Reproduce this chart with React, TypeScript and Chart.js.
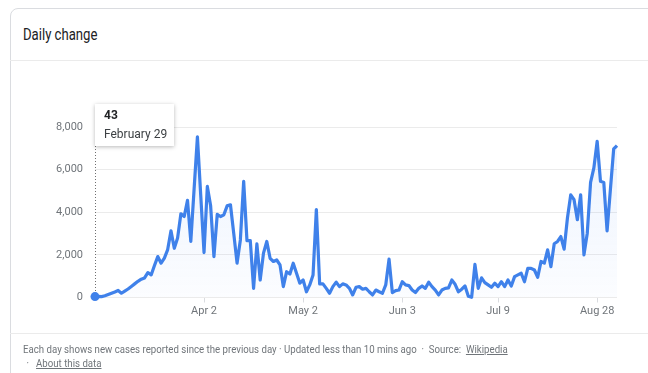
import React, { useEffect, useRef } from "react";
import { Chart, registerables } from "chart.js";

Chart.register(...registerables);

const dailyCases: number[] = [
  43, 50, 40, 80, 140, 200, 260, 330, 200, 300,
  400, 520, 640, 760, 860, 920, 1170, 1060, 1500, 1920,
  1610, 1850, 2250, 3130, 2310, 2790, 3930, 3800, 4560, 2630,
  5100, 7540, 4800, 2110, 5210, 4300, 1920, 3900, 3800, 3880,
  4300, 4350, 3000, 1610, 2700, 5450, 2670, 2670, 430, 2520,
  820, 2080, 2630, 1840, 1690, 1760, 1530, 510, 1210, 1100,
  1610, 1140, 670, 820, 270, 590, 1060, 4120, 640, 640,
  430, 200, 510, 720, 510, 640, 590, 430, 120, 480,
  510, 390, 430, 270, 120, 350, 270, 200, 590, 1800,
  230, 320, 350, 740, 590, 560, 350, 230, 430, 540,
  430, 720, 510, 350, 120, 350, 430, 450, 820, 620,
  270, 390, 540, 60, 10, 1550, 430, 920, 700, 590,
  480, 670, 510, 740, 510, 820, 540, 980, 1060, 1140,
  740, 1370, 1370, 1290, 950, 1690, 1610, 2240, 1450, 2520,
  2630, 2860, 2270, 3730, 4820, 4590, 3650, 4820, 2000, 3020,
  5400, 6080, 7330, 5450, 5400, 3130, 5060, 6970, 7130,
];

const tickIndices: number[] = [33, 63, 93, 122, 152];
const tickLabels: string[] = ["Apr 2", "May 2", "Jun 3", "Jul 9", "Aug 28"];
const yTicks: number[] = [0, 2000, 4000, 6000, 8000];
const firstDateLabel = "February 29";
const title = "Daily change";

const BLUE = "#3f81ea";
const GREY = "#70757a";
const FONT = "Roboto, Arial, sans-serif";

const focusPlugin = {
  id: "focusTip",
  beforeDatasetsDraw(chart: any) {
    const meta = chart.getDatasetMeta(0);
    const pt = meta.data[0];
    if (!pt) return;
    const c = chart.ctx;
    c.save();
    c.strokeStyle = "#6f6f6f";
    c.lineWidth = 1;
    c.setLineDash([1, 2]);
    c.beginPath();
    const x = Math.round(pt.x) + 0.5;
    c.moveTo(x, 146);
    c.lineTo(x, pt.y);
    c.stroke();
    c.restore();
  },
  afterDraw(chart: any) {
    const meta = chart.getDatasetMeta(0);
    const pt = meta.data[0];
    if (!pt) return;
    const c = chart.ctx;
    const bx = Math.round(pt.x);
    const by = 104;
    const bw = 79;
    const bh = 42;
    c.save();
    c.shadowColor = "rgba(0,0,0,0.28)";
    c.shadowBlur = 4;
    c.shadowOffsetY = 1;
    c.fillStyle = "#fff";
    c.fillRect(bx, by, bw, bh);
    c.restore();
    c.save();
    c.textBaseline = "middle";
    c.textAlign = "left";
    c.fillStyle = "#202124";
    c.font = `bold 12px ${FONT}`;
    c.fillText(dailyCases[0].toLocaleString("en-US"), bx + 9, by + 12);
    c.font = `12px ${FONT}`;
    c.fillStyle = "#3c4043";
    c.fillText(firstDateLabel, bx + 9, by + 31);
    c.restore();
  },
};

export default function App() {
  const canvasRef = useRef<HTMLCanvasElement | null>(null);

  useEffect(() => {
    const canvas = canvasRef.current;
    if (!canvas) return;
    const chart = new Chart(canvas, {
      type: "line",
      data: {
        datasets: [
          {
            data: dailyCases.map((v, i) => ({ x: i, y: v })),
            borderColor: BLUE,
            borderWidth: 3.2,
            borderJoinStyle: "round",
            tension: 0,
            clip: false,
            pointRadius: (ctx: any) => (ctx.dataIndex === 0 ? 4.5 : 0),
            pointBackgroundColor: BLUE,
            pointBorderColor: BLUE,
            pointBorderWidth: 0,
            pointHoverRadius: 0,
            fill: "origin",
            backgroundColor: (ctx: any) => {
              const area = ctx.chart.chartArea;
              if (!area) return "rgba(66,133,244,0.05)";
              const g = ctx.chart.ctx.createLinearGradient(0, area.top, 0, area.bottom);
              g.addColorStop(0, "rgba(66,133,244,0.10)");
              g.addColorStop(1, "rgba(66,133,244,0.02)");
              return g;
            },
          },
        ],
      },
      options: {
        animation: false,
        responsive: false,
        events: [],
        layout: { padding: { left: 0, right: 31, top: 127, bottom: 0 } },
        plugins: {
          legend: { display: false },
          tooltip: { enabled: false },
        },
        scales: {
          x: {
            type: "linear",
            min: 0,
            max: dailyCases.length - 1,
            afterBuildTicks: (s: any) => {
              s.ticks = tickIndices.map((v) => ({ value: v }));
            },
            afterFit: (s: any) => {
              s.height = 75.5;
            },
            ticks: {
              autoSkip: false,
              maxRotation: 0,
              padding: 2,
              color: GREY,
              font: { family: FONT, size: 11 },
              callback: (v: any) => {
                const k = tickIndices.indexOf(Number(v));
                return k >= 0 ? tickLabels[k] : "";
              },
            },
            grid: { drawOnChartArea: false, drawTicks: true, tickLength: 5, color: "#dadce0" },
            border: { display: false },
          },
          y: {
            min: yTicks[0],
            max: yTicks[yTicks.length - 1],
            afterBuildTicks: (s: any) => {
              s.ticks = yTicks.map((v) => ({ value: v }));
            },
            afterFit: (s: any) => {
              s.width = 95;
            },
            ticks: {
              padding: 12,
              color: GREY,
              font: { family: FONT, size: 11 },
              callback: (v: any) => Number(v).toLocaleString("en-US"),
            },
            grid: { color: "#ebebeb", drawTicks: false },
            border: { display: false },
          },
        },
      },
      plugins: [focusPlugin],
    } as any);
    return () => chart.destroy();
  }, []);

  return (
    <div
      style={{
        position: "fixed",
        left: 0,
        top: 0,
        width: 648,
        height: 373,
        background: "#fff",
        overflow: "hidden",
        fontFamily: FONT,
      }}
    >
      <div
        style={{
          position: "absolute",
          left: 10,
          top: 8,
          width: 720,
          height: 420,
          border: "1px solid #dadce0",
          borderRadius: 8,
          boxSizing: "border-box",
        }}
      />
      <div
        style={{
          position: "absolute",
          left: 23,
          top: 25,
          fontSize: 16,
          color: "#202124",
          whiteSpace: "nowrap",
          transform: "scaleX(0.82)",
          transformOrigin: "left center",
        }}
      >
        {title}
      </div>
      <div style={{ position: "absolute", left: 10, top: 60, width: 660, height: 1, background: "#ebebeb" }} />
      <div style={{ position: "absolute", left: 10, top: 333, width: 660, height: 1, background: "#ebebeb" }} />
      <canvas
        ref={canvasRef}
        width={648}
        height={373}
        style={{ position: "absolute", left: 0, top: 0, width: 648, height: 373 }}
      />
      <div
        style={{
          position: "absolute",
          left: 23,
          top: 343,
          fontSize: 11,
          lineHeight: "13.5px",
          color: GREY,
          whiteSpace: "pre",
          transform: "scaleX(0.878)",
          transformOrigin: "left top",
        }}
      >
        <div>
          {"Each day shows new cases reported since the previous day · Updated less than 10 mins ago  ·  Source:  "}
          <span style={{ textDecoration: "underline" }}>Wikipedia</span>
        </div>
        <div>
          <span style={{ display: "inline-block", marginLeft: 4 }}>·</span>
          <span style={{ display: "inline-block", marginLeft: 8, textDecoration: "underline" }}>
            About this data
          </span>
        </div>
      </div>
    </div>
  );
}
